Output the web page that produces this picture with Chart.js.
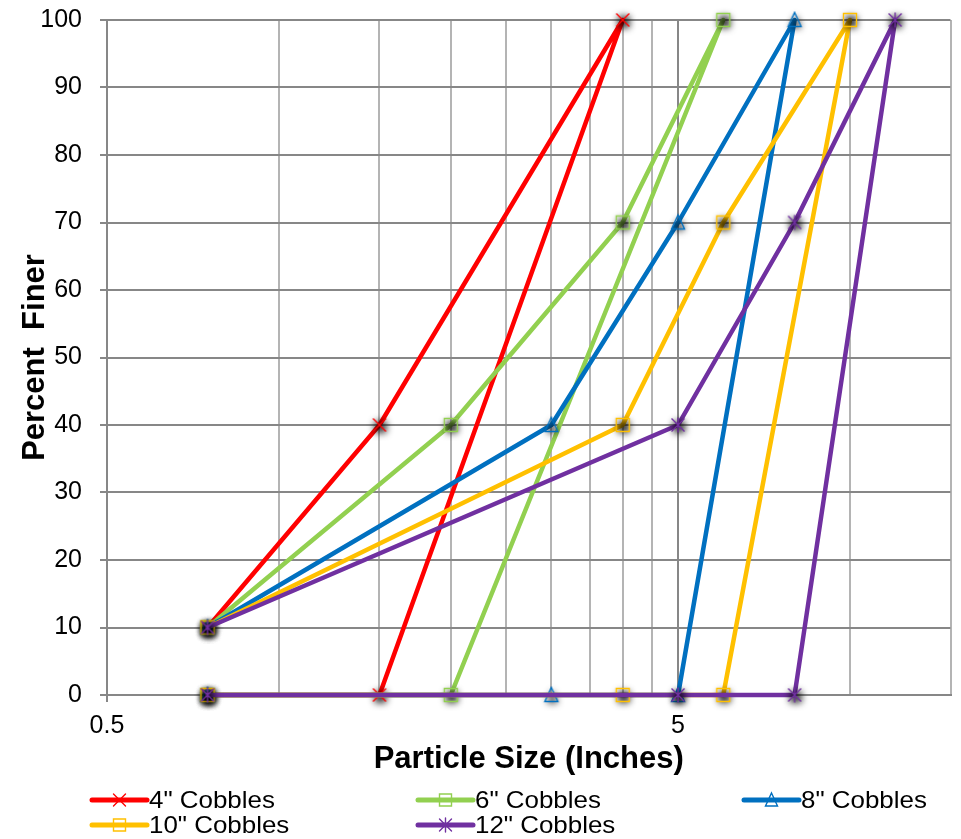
<!DOCTYPE html>
<html>
<head>
<meta charset="utf-8">
<script src="https://cdn.jsdelivr.net/npm/chart.js@4/dist/chart.umd.min.js"></script>
<style>
  html, body { margin: 0; padding: 0; background: #ffffff; }
  #wrap { width: 961px; height: 839px; }
</style>
</head>
<body>
<div id="wrap"><canvas id="gradation" width="961" height="839"></canvas></div>
<script>
// Gradation bands: each path runs up the coarse (upper) bound, then back down the fine (lower) bound.
const seriesNames = ['4" Cobbles', '6" Cobbles', '8" Cobbles', '10" Cobbles', '12" Cobbles'];

const sizes4  = [0.75, 1.5, 4, 1.5, 0.75];
const finer4  = [10, 40, 100, 0, 0];

const sizes6  = [0.75, 2, 4, 6, 2, 0.75];
const finer6  = [10, 40, 70, 100, 0, 0];

const sizes8  = [0.75, 3, 5, 8, 5, 3, 0.75];
const finer8  = [10, 40, 70, 100, 0, 0, 0];

const sizes10 = [0.75, 4, 6, 10, 6, 4, 0.75];
const finer10 = [10, 40, 70, 100, 0, 0, 0];

const sizes12 = [0.75, 5, 8, 12, 8, 5, 0.75];
const finer12 = [10, 40, 70, 100, 0, 0, 0];

// Axis ticks
const xTickValues = [0.5, 1, 1.5, 2, 2.5, 3, 3.5, 4, 4.5, 5, 10, 15];
const xLabelledTicks = [0.5, 5];
const yTickStep = 10;

const seriesColors = ['#FF0000', '#92D050', '#0070C0', '#FFC000', '#7030A0'];
const seriesMarkers = ['x', 'square', 'triangle', 'square', 'star'];
const seriesSizes = [sizes4, sizes6, sizes8, sizes10, sizes12];
const seriesFiner = [finer4, finer6, finer8, finer10, finer12];

const FONT = "'Liberation Sans', Arial, Helvetica, sans-serif";

function markerOutline(g, shape, cx, cy, s) {
  if (shape === 'triangle') {
    g.moveTo(cx, cy - s - 1);
    g.lineTo(cx + s, cy + s);
    g.lineTo(cx - s, cy + s);
    g.closePath();
  } else {
    g.rect(cx - s, cy - s, 2 * s, 2 * s);
  }
}

function drawMarker(g, shape, cx, cy, color, s) {
  g.save();
  g.strokeStyle = color;
  g.lineWidth = 1.4;
  g.beginPath();
  if (shape === 'x') {
    g.moveTo(cx - s, cy - s); g.lineTo(cx + s, cy + s);
    g.moveTo(cx + s, cy - s); g.lineTo(cx - s, cy + s);
  } else if (shape === 'star') {
    g.moveTo(cx - s, cy - s); g.lineTo(cx + s, cy + s);
    g.moveTo(cx + s, cy - s); g.lineTo(cx - s, cy + s);
    g.moveTo(cx, cy - s - 1); g.lineTo(cx, cy + s + 1);
  } else if (shape === 'square') {
    g.rect(cx - s, cy - s, 2 * s, 2 * s);
  } else if (shape === 'triangle') {
    g.moveTo(cx, cy - s - 1);
    g.lineTo(cx + s, cy + s);
    g.lineTo(cx - s, cy + s);
    g.closePath();
  }
  g.stroke();
  g.restore();
}

// Point sprite: soft drop shadow under an unfilled outline marker
function makeSprite(shape, color) {
  const c = document.createElement('canvas');
  c.width = 32; c.height = 32;
  const g = c.getContext('2d');
  g.save();
  g.shadowColor = 'rgba(0,0,0,0.8)';
  g.shadowBlur = 7;
  g.shadowOffsetX = 1000 + 1;
  g.shadowOffsetY = 2;
  g.fillStyle = '#000';
  g.beginPath();
  markerOutline(g, shape, 16 - 1000, 16, 6);
  g.fill();
  g.restore();
  drawMarker(g, shape, 16, 16, color, 6.5);
  return c;
}

const datasets = seriesNames.map((name, i) => ({
  label: name,
  data: seriesSizes[i].map((x, k) => ({ x: x, y: seriesFiner[i][k] })),
  showLine: true,
  borderColor: seriesColors[i],
  backgroundColor: seriesColors[i],
  borderWidth: 4.5,
  borderJoinStyle: 'round',
  borderCapStyle: 'round',
  pointStyle: makeSprite(seriesMarkers[i], seriesColors[i]),
  pointRadius: 6,
  pointHoverRadius: 6,
  clip: false,
  order: seriesNames.length - i
}));

// Legend laid out in three columns beneath the axis title
const legendPlugin = {
  id: 'columnLegend',
  afterDraw(chart) {
    const g = chart.ctx;
    const cols = [92, 418, 744];
    const rows = [800, 825];
    g.save();
    seriesNames.forEach((name, i) => {
      const x0 = cols[i % 3];
      const y = rows[Math.floor(i / 3)];
      g.strokeStyle = seriesColors[i];
      g.lineWidth = 5;
      g.lineCap = 'round';
      g.beginPath();
      g.moveTo(x0, y);
      g.lineTo(x0 + 55, y);
      g.stroke();
      drawMarker(g, seriesMarkers[i], x0 + 27.5, y, seriesColors[i], 6);
      g.save();
      g.translate(x0 + 57, y);
      g.scale(1.08, 1);
      g.fillStyle = '#000';
      g.font = '24px ' + FONT;
      g.textBaseline = 'middle';
      g.textAlign = 'left';
      g.fillText(name, 0, 1);
      g.restore();
    });
    g.restore();
  }
};

const majorGrid = '#878787';
const minorGrid = '#b4b4b4';

new Chart(document.getElementById('gradation'), {
  type: 'scatter',
  data: { datasets: datasets },
  plugins: [legendPlugin],
  options: {
    responsive: false,
    animation: false,
    devicePixelRatio: 1,
    layout: { padding: { top: 20, right: 1, bottom: 57, left: 0 } },
    plugins: {
      legend: { display: false },
      tooltip: { enabled: false }
    },
    scales: {
      x: {
        type: 'logarithmic',
        min: 0.5,
        max: 15,
        afterBuildTicks(scale) {
          scale.ticks = xTickValues.map(v => ({ value: v }));
        },
        afterFit(scale) {
          scale.height = 87;
          scale.paddingLeft = 0;
          scale.paddingRight = 0;
        },
        ticks: {
          autoSkip: false,
          maxRotation: 0,
          padding: 4,
          color: '#000',
          font: { family: FONT, size: 25, lineHeight: 1.6 },
          callback: (value) => xLabelledTicks.includes(value) ? String(value) : ''
        },
        grid: {
          color: (c) => (c.tick && xLabelledTicks.includes(c.tick.value)) ? majorGrid : minorGrid,
          tickColor: (c) => (c.tick && xLabelledTicks.includes(c.tick.value)) ? majorGrid : 'rgba(0,0,0,0)',
          lineWidth: 2,
          tickLength: 7
        },
        border: { color: majorGrid, width: 2 },
        title: {
          display: true,
          text: 'Particle Size (Inches)',
          color: '#000',
          font: { family: FONT, size: 31, weight: 'bold' },
          padding: { top: 0, bottom: 4 }
        }
      },
      y: {
        min: 0,
        max: 100,
        afterFit(scale) {
          scale.width = 107;
          scale.paddingTop = 0;
          scale.paddingBottom = 0;
        },
        ticks: {
          stepSize: yTickStep,
          padding: 18,
          color: '#000',
          font: { family: FONT, size: 25 }
        },
        grid: {
          color: majorGrid,
          tickColor: majorGrid,
          lineWidth: 2,
          tickLength: 7
        },
        border: { color: majorGrid, width: 2 },
        title: {
          display: true,
          text: 'Percent  Finer',
          color: '#000',
          font: { family: FONT, size: 31, weight: 'bold' },
          padding: { top: 17, bottom: 0 }
        }
      }
    }
  }
});
</script>
</body>
</html>
